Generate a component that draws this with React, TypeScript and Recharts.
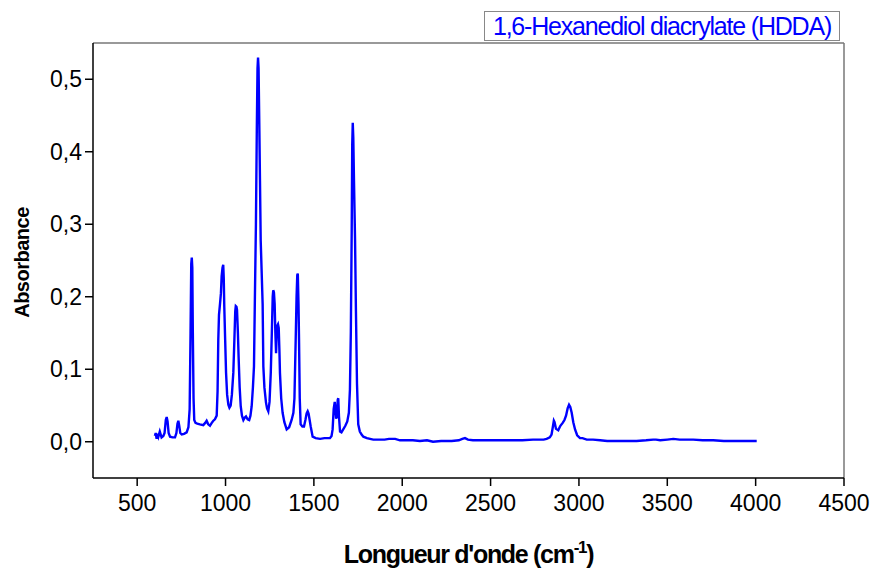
import { Label, Line, LineChart, ReferenceLine, XAxis, YAxis } from "recharts";

// FTIR spectrum of HDDA
const wavenumber = [
  600, 605, 610, 615, 620, 628, 638, 648, 655, 662, 667, 672, 678, 686, 700, 714, 722, 728, 733, 738,
  744, 752, 765, 780, 790, 797, 802, 806, 809, 812, 815, 819, 823, 830, 840, 855, 874, 885, 893, 902,
  912, 922, 931, 940, 950, 955, 959, 963, 969, 974, 978, 983, 987, 990, 993, 998, 1003, 1009, 1016, 1022,
  1029, 1036, 1044, 1050, 1055, 1058, 1062, 1065, 1070, 1074, 1080, 1086, 1093, 1101, 1108, 1116, 1125, 1134, 1141, 1148,
  1155, 1161, 1166, 1172, 1177, 1181, 1184, 1187, 1191, 1195, 1199, 1205, 1210, 1214, 1220, 1229, 1235, 1242, 1249, 1256,
  1262, 1267, 1270, 1274, 1278, 1282, 1286, 1290, 1293, 1297, 1301, 1305, 1308, 1315, 1323, 1333, 1346, 1360, 1374, 1384,
  1390, 1397, 1402, 1406, 1409, 1413, 1416, 1420, 1425, 1435, 1444, 1452, 1459, 1465, 1470, 1476, 1482, 1493, 1510, 1535,
  1560, 1591, 1600, 1606, 1612, 1618, 1622, 1626, 1630, 1635, 1638, 1642, 1648, 1656, 1666, 1678, 1689, 1698, 1704, 1709,
  1714, 1717, 1720, 1723, 1727, 1733, 1738, 1744, 1751, 1760, 1770, 1780, 1800, 1836, 1870, 1900, 1925, 1940, 1960, 1987,
  2020, 2060, 2100, 2140, 2174, 2220, 2280, 2320, 2340, 2355, 2372, 2400, 2450, 2500, 2560, 2620, 2680, 2740, 2800, 2817,
  2835, 2845, 2852, 2858, 2862, 2870, 2883, 2895, 2908, 2918, 2927, 2936, 2944, 2951, 2959, 2968, 2978, 2990, 3006, 3020,
  3044, 3080, 3120, 3160, 3194, 3250, 3326, 3380, 3420, 3436, 3460, 3500, 3534, 3570, 3610, 3647, 3700, 3760, 3820, 3880,
  3940, 4006,
];

const absorbance = [
  0.008, 0.012, 0.004, 0.011, 0.007, 0.014, 0.006, 0.008, 0.012, 0.030, 0.034, 0.028, 0.012, 0.007, 0.006, 0.006, 0.012, 0.025, 0.029, 0.022,
  0.012, 0.010, 0.011, 0.013, 0.020, 0.045, 0.150, 0.245, 0.254, 0.240, 0.150, 0.060, 0.030, 0.026, 0.025, 0.024, 0.023, 0.026, 0.029, 0.024,
  0.022, 0.026, 0.029, 0.031, 0.036, 0.070, 0.140, 0.175, 0.191, 0.205, 0.228, 0.240, 0.244, 0.225, 0.186, 0.140, 0.095, 0.065, 0.051, 0.047,
  0.050, 0.065, 0.095, 0.140, 0.180, 0.187, 0.186, 0.182, 0.150, 0.117, 0.075, 0.049, 0.036, 0.030, 0.033, 0.035, 0.031, 0.030, 0.036, 0.049,
  0.075, 0.104, 0.196, 0.300, 0.430, 0.515, 0.530, 0.515, 0.440, 0.360, 0.278, 0.230, 0.190, 0.104, 0.075, 0.054, 0.046, 0.042, 0.055, 0.095,
  0.150, 0.200, 0.209, 0.206, 0.190, 0.150, 0.122, 0.150, 0.160, 0.162, 0.157, 0.125, 0.095, 0.060, 0.040, 0.027, 0.017, 0.020, 0.030, 0.040,
  0.060, 0.140, 0.200, 0.230, 0.232, 0.190, 0.140, 0.060, 0.024, 0.021, 0.021, 0.030, 0.039, 0.042, 0.039, 0.030, 0.021, 0.007, 0.005, 0.004,
  0.005, 0.005, 0.008, 0.017, 0.045, 0.055, 0.045, 0.032, 0.035, 0.058, 0.060, 0.035, 0.014, 0.013, 0.017, 0.022, 0.028, 0.040, 0.072, 0.150,
  0.290, 0.410, 0.440, 0.420, 0.360, 0.278, 0.180, 0.080, 0.024, 0.014, 0.010, 0.007, 0.005, 0.003, 0.003, 0.003, 0.004, 0.004, 0.004, 0.002,
  0.002, 0.002, 0.001, 0.002, 0.000, 0.001, 0.001, 0.002, 0.004, 0.005, 0.003, 0.002, 0.002, 0.002, 0.002, 0.002, 0.002, 0.003, 0.003, 0.004,
  0.006, 0.010, 0.020, 0.029, 0.027, 0.018, 0.016, 0.022, 0.026, 0.030, 0.036, 0.046, 0.051, 0.048, 0.040, 0.027, 0.017, 0.009, 0.005, 0.005,
  0.003, 0.003, 0.002, 0.001, 0.001, 0.001, 0.001, 0.002, 0.003, 0.003, 0.002, 0.003, 0.004, 0.003, 0.003, 0.003, 0.002, 0.002, 0.001, 0.001,
  0.001, 0.001,
];

const xMajorTicks = [500, 1000, 1500, 2000, 2500, 3000, 3500, 4000, 4500];
const xMinorTicks = [250, 750, 1250, 1750, 2250, 2750, 3250, 3750, 4250];
const yMajorTicks = [0, 0.1, 0.2, 0.3, 0.4, 0.5];
const yMinorTicks = [-0.05, 0.05, 0.15, 0.25, 0.35, 0.45, 0.55];

const seriesName = "1,6-Hexanediol diacrylate (HDDA)";

const data = wavenumber.map((w, i) => ({ w, a: absorbance[i] }));

const font = "'Liberation Sans', Arial, sans-serif";
const xDomain: [number, number] = [250, 4500];
const yDomain: [number, number] = [-0.05, 0.55];

const XTitle = (props: any) => {
  const { viewBox } = props;
  const cx = viewBox.x + viewBox.width / 2;
  return (
    <text x={cx} y={563} textAnchor="middle" fontFamily={font} fontWeight="bold" fontSize={25} letterSpacing={-1.3} fill="#000">
      Longueur d'onde (cm
      <tspan dy={-10} fontSize={17}>-1</tspan>
      <tspan dy={10}>)</tspan>
    </text>
  );
};

const YTitle = (props: any) => {
  const { viewBox } = props;
  const cy = viewBox.y + viewBox.height / 2 + 2;
  return (
    <text
      x={29}
      y={cy}
      transform={`rotate(-90, 29, ${cy})`}
      textAnchor="middle"
      fontFamily={font}
      fontWeight="bold"
      fontSize={20}
      letterSpacing={-0.5}
      fill="#000"
    >
      Absorbance
    </text>
  );
};

export default function App() {
  return (
    <div style={{ position: "absolute", left: 0, top: 0, width: 877, height: 570, background: "#fff" }}>
      <LineChart width={877} height={570} data={data} margin={{ top: 43, right: 33, bottom: 32, left: 33 }}>
        {/* minor ticks first, zero size, so they sit on the frame */}
        <XAxis
          xAxisId="minor"
          type="number"
          dataKey="w"
          domain={xDomain}
          ticks={xMinorTicks}
          allowDataOverflow
          height={0}
          tickSize={5}
          tick={false}
          axisLine={false}
          tickLine={{ stroke: "#000", strokeWidth: 1.5 }}
        />
        <XAxis
          xAxisId="main"
          type="number"
          dataKey="w"
          domain={xDomain}
          ticks={xMajorTicks}
          allowDataOverflow
          height={60}
          tickSize={8}
          tickMargin={9}
          axisLine={{ stroke: "#000", strokeWidth: 1.5 }}
          tickLine={{ stroke: "#000", strokeWidth: 1.5 }}
          tick={{ fontSize: 23, fill: "#000", fontFamily: font }}
        >
          <Label content={<XTitle />} />
        </XAxis>
        <YAxis
          yAxisId="minor"
          type="number"
          domain={yDomain}
          ticks={yMinorTicks}
          allowDataOverflow
          width={0}
          tickSize={5}
          tick={false}
          axisLine={false}
          tickLine={{ stroke: "#000", strokeWidth: 1.5 }}
        />
        <YAxis
          yAxisId="main"
          type="number"
          domain={yDomain}
          ticks={yMajorTicks}
          allowDataOverflow
          width={60}
          tickSize={8}
          tickMargin={3}
          tickFormatter={(v) => Number(v).toFixed(1).replace(".", ",")}
          axisLine={{ stroke: "#000", strokeWidth: 1.5 }}
          tickLine={{ stroke: "#000", strokeWidth: 1.5 }}
          tick={{ fontSize: 23, fill: "#000", fontFamily: font }}
        >
          <Label content={<YTitle />} />
        </YAxis>
        <ReferenceLine xAxisId="main" yAxisId="main" y={0.55} stroke="#777" strokeWidth={1.5} ifOverflow="extendDomain" />
        <ReferenceLine xAxisId="main" yAxisId="main" x={4500} stroke="#777" strokeWidth={1.5} ifOverflow="extendDomain" />
        <Line
          xAxisId="main"
          yAxisId="main"
          type="linear"
          dataKey="a"
          name={seriesName}
          stroke="#0000ff"
          strokeWidth={2.4}
          dot={false}
          isAnimationActive={false}
        />
      </LineChart>
      <div
        style={{
          position: "absolute",
          left: 484,
          top: 11,
          width: 354,
          height: 28,
          border: "1px solid #888",
          color: "#0000ff",
          fontFamily: font,
          fontSize: 25,
          lineHeight: "28px",
          letterSpacing: -1.2,
          textAlign: "center",
          whiteSpace: "nowrap",
        }}
      >
        {seriesName}
      </div>
    </div>
  );
}
